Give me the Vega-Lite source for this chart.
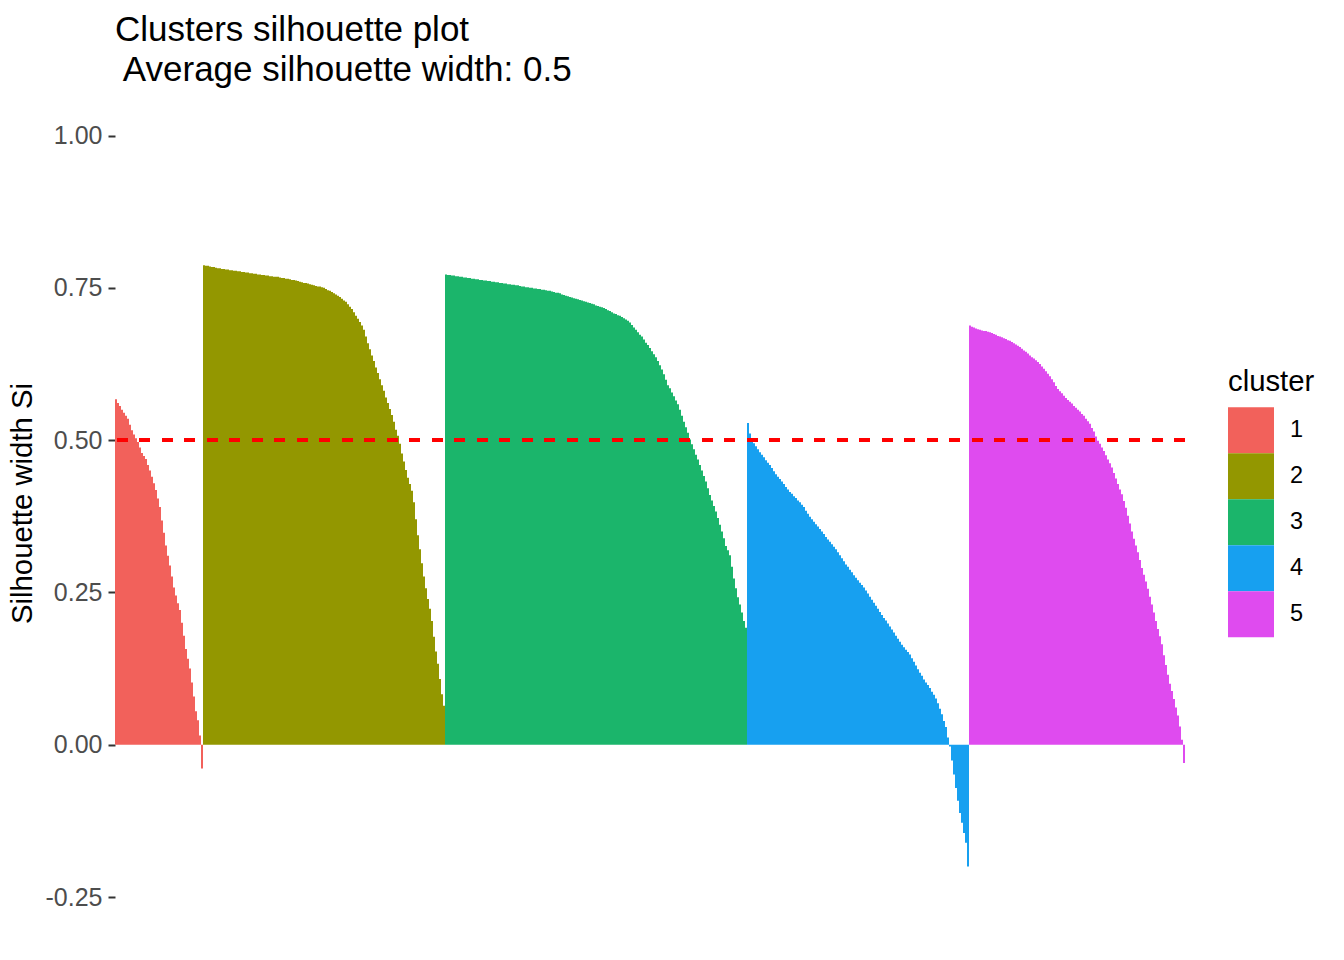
{
"$schema":"https://vega.github.io/schema/vega-lite/v6.json",
"width":1070,"height":788,
"autosize":{"type":"none"},
"padding":{"left":115,"top":109,"right":159,"bottom":63},
"background":"white",
"config":{"view":{"stroke":null},"font":"Liberation Sans"},
"title":{"text":["Clusters silhouette plot","\u200b Average silhouette width: 0.5"],"anchor":"start","frame":"group","fontSize":35,"fontWeight":"normal","lineHeight":40,"color":"black","offset":21,"font":"Liberation Sans"},
"data":{"values":[
{"i":1,"c":"1","s":0.567},{"i":2,"c":"1","s":0.561},{"i":3,"c":"1","s":0.556},{"i":4,"c":"1","s":0.550},{"i":5,"c":"1","s":0.545},{"i":6,"c":"1","s":0.540},{"i":7,"c":"1","s":0.535},{"i":8,"c":"1","s":0.525},{"i":9,"c":"1","s":0.516},{"i":10,"c":"1","s":0.509},
{"i":11,"c":"1","s":0.503},{"i":12,"c":"1","s":0.497},{"i":13,"c":"1","s":0.488},{"i":14,"c":"1","s":0.479},{"i":15,"c":"1","s":0.474},{"i":16,"c":"1","s":0.469},{"i":17,"c":"1","s":0.459},{"i":18,"c":"1","s":0.450},{"i":19,"c":"1","s":0.440},{"i":20,"c":"1","s":0.429},
{"i":21,"c":"1","s":0.418},{"i":22,"c":"1","s":0.404},{"i":23,"c":"1","s":0.390},{"i":24,"c":"1","s":0.368},{"i":25,"c":"1","s":0.348},{"i":26,"c":"1","s":0.327},{"i":27,"c":"1","s":0.310},{"i":28,"c":"1","s":0.294},{"i":29,"c":"1","s":0.276},{"i":30,"c":"1","s":0.258},
{"i":31,"c":"1","s":0.245},{"i":32,"c":"1","s":0.232},{"i":33,"c":"1","s":0.221},{"i":34,"c":"1","s":0.200},{"i":35,"c":"1","s":0.179},{"i":36,"c":"1","s":0.157},{"i":37,"c":"1","s":0.141},{"i":38,"c":"1","s":0.125},{"i":39,"c":"1","s":0.102},{"i":40,"c":"1","s":0.079},
{"i":41,"c":"1","s":0.055},{"i":42,"c":"1","s":0.040},{"i":43,"c":"1","s":0.015},{"i":44,"c":"1","s":-0.039},
{"i":45,"c":"2","s":0.787},{"i":46,"c":"2","s":0.786},{"i":47,"c":"2","s":0.786},{"i":48,"c":"2","s":0.785},{"i":49,"c":"2","s":0.784},{"i":50,"c":"2","s":0.784},{"i":51,"c":"2","s":0.783},{"i":52,"c":"2","s":0.782},{"i":53,"c":"2","s":0.782},{"i":54,"c":"2","s":0.781},
{"i":55,"c":"2","s":0.781},{"i":56,"c":"2","s":0.780},{"i":57,"c":"2","s":0.780},{"i":58,"c":"2","s":0.779},{"i":59,"c":"2","s":0.779},{"i":60,"c":"2","s":0.778},{"i":61,"c":"2","s":0.778},{"i":62,"c":"2","s":0.777},{"i":63,"c":"2","s":0.777},{"i":64,"c":"2","s":0.776},
{"i":65,"c":"2","s":0.776},{"i":66,"c":"2","s":0.775},{"i":67,"c":"2","s":0.775},{"i":68,"c":"2","s":0.774},{"i":69,"c":"2","s":0.774},{"i":70,"c":"2","s":0.773},{"i":71,"c":"2","s":0.773},{"i":72,"c":"2","s":0.772},{"i":73,"c":"2","s":0.772},{"i":74,"c":"2","s":0.771},
{"i":75,"c":"2","s":0.771},{"i":76,"c":"2","s":0.770},{"i":77,"c":"2","s":0.770},{"i":78,"c":"2","s":0.769},{"i":79,"c":"2","s":0.769},{"i":80,"c":"2","s":0.768},{"i":81,"c":"2","s":0.768},{"i":82,"c":"2","s":0.768},{"i":83,"c":"2","s":0.767},{"i":84,"c":"2","s":0.766},
{"i":85,"c":"2","s":0.766},{"i":86,"c":"2","s":0.765},{"i":87,"c":"2","s":0.765},{"i":88,"c":"2","s":0.764},{"i":89,"c":"2","s":0.763},{"i":90,"c":"2","s":0.763},{"i":91,"c":"2","s":0.762},{"i":92,"c":"2","s":0.761},{"i":93,"c":"2","s":0.760},{"i":94,"c":"2","s":0.759},
{"i":95,"c":"2","s":0.758},{"i":96,"c":"2","s":0.758},{"i":97,"c":"2","s":0.757},{"i":98,"c":"2","s":0.756},{"i":99,"c":"2","s":0.755},{"i":100,"c":"2","s":0.754},{"i":101,"c":"2","s":0.753},{"i":102,"c":"2","s":0.752},{"i":103,"c":"2","s":0.752},{"i":104,"c":"2","s":0.751},
{"i":105,"c":"2","s":0.750},{"i":106,"c":"2","s":0.748},{"i":107,"c":"2","s":0.746},{"i":108,"c":"2","s":0.745},{"i":109,"c":"2","s":0.743},{"i":110,"c":"2","s":0.741},{"i":111,"c":"2","s":0.739},{"i":112,"c":"2","s":0.737},{"i":113,"c":"2","s":0.735},{"i":114,"c":"2","s":0.732},
{"i":115,"c":"2","s":0.729},{"i":116,"c":"2","s":0.727},{"i":117,"c":"2","s":0.723},{"i":118,"c":"2","s":0.719},{"i":119,"c":"2","s":0.715},{"i":120,"c":"2","s":0.710},{"i":121,"c":"2","s":0.704},{"i":122,"c":"2","s":0.699},{"i":123,"c":"2","s":0.694},{"i":124,"c":"2","s":0.688},
{"i":125,"c":"2","s":0.681},{"i":126,"c":"2","s":0.670},{"i":127,"c":"2","s":0.659},{"i":128,"c":"2","s":0.649},{"i":129,"c":"2","s":0.639},{"i":130,"c":"2","s":0.630},{"i":131,"c":"2","s":0.619},{"i":132,"c":"2","s":0.610},{"i":133,"c":"2","s":0.600},{"i":134,"c":"2","s":0.590},
{"i":135,"c":"2","s":0.581},{"i":136,"c":"2","s":0.570},{"i":137,"c":"2","s":0.561},{"i":138,"c":"2","s":0.551},{"i":139,"c":"2","s":0.541},{"i":140,"c":"2","s":0.530},{"i":141,"c":"2","s":0.517},{"i":142,"c":"2","s":0.507},{"i":143,"c":"2","s":0.494},{"i":144,"c":"2","s":0.478},
{"i":145,"c":"2","s":0.465},{"i":146,"c":"2","s":0.451},{"i":147,"c":"2","s":0.438},{"i":148,"c":"2","s":0.428},{"i":149,"c":"2","s":0.417},{"i":150,"c":"2","s":0.398},{"i":151,"c":"2","s":0.370},{"i":152,"c":"2","s":0.344},{"i":153,"c":"2","s":0.321},{"i":154,"c":"2","s":0.298},
{"i":155,"c":"2","s":0.276},{"i":156,"c":"2","s":0.257},{"i":157,"c":"2","s":0.239},{"i":158,"c":"2","s":0.223},{"i":159,"c":"2","s":0.203},{"i":160,"c":"2","s":0.177},{"i":161,"c":"2","s":0.153},{"i":162,"c":"2","s":0.133},{"i":163,"c":"2","s":0.108},{"i":164,"c":"2","s":0.083},
{"i":165,"c":"2","s":0.064},
{"i":166,"c":"3","s":0.772},{"i":167,"c":"3","s":0.771},{"i":168,"c":"3","s":0.771},{"i":169,"c":"3","s":0.770},{"i":170,"c":"3","s":0.770},{"i":171,"c":"3","s":0.769},{"i":172,"c":"3","s":0.769},{"i":173,"c":"3","s":0.768},{"i":174,"c":"3","s":0.768},{"i":175,"c":"3","s":0.767},
{"i":176,"c":"3","s":0.767},{"i":177,"c":"3","s":0.766},{"i":178,"c":"3","s":0.766},{"i":179,"c":"3","s":0.765},{"i":180,"c":"3","s":0.765},{"i":181,"c":"3","s":0.764},{"i":182,"c":"3","s":0.764},{"i":183,"c":"3","s":0.763},{"i":184,"c":"3","s":0.763},{"i":185,"c":"3","s":0.762},
{"i":186,"c":"3","s":0.762},{"i":187,"c":"3","s":0.761},{"i":188,"c":"3","s":0.761},{"i":189,"c":"3","s":0.760},{"i":190,"c":"3","s":0.760},{"i":191,"c":"3","s":0.759},{"i":192,"c":"3","s":0.759},{"i":193,"c":"3","s":0.758},{"i":194,"c":"3","s":0.758},{"i":195,"c":"3","s":0.757},
{"i":196,"c":"3","s":0.757},{"i":197,"c":"3","s":0.756},{"i":198,"c":"3","s":0.756},{"i":199,"c":"3","s":0.755},{"i":200,"c":"3","s":0.755},{"i":201,"c":"3","s":0.754},{"i":202,"c":"3","s":0.754},{"i":203,"c":"3","s":0.753},{"i":204,"c":"3","s":0.752},{"i":205,"c":"3","s":0.752},
{"i":206,"c":"3","s":0.751},{"i":207,"c":"3","s":0.751},{"i":208,"c":"3","s":0.750},{"i":209,"c":"3","s":0.750},{"i":210,"c":"3","s":0.749},{"i":211,"c":"3","s":0.749},{"i":212,"c":"3","s":0.748},{"i":213,"c":"3","s":0.748},{"i":214,"c":"3","s":0.747},{"i":215,"c":"3","s":0.747},
{"i":216,"c":"3","s":0.746},{"i":217,"c":"3","s":0.745},{"i":218,"c":"3","s":0.745},{"i":219,"c":"3","s":0.744},{"i":220,"c":"3","s":0.743},{"i":221,"c":"3","s":0.742},{"i":222,"c":"3","s":0.742},{"i":223,"c":"3","s":0.741},{"i":224,"c":"3","s":0.739},{"i":225,"c":"3","s":0.738},
{"i":226,"c":"3","s":0.737},{"i":227,"c":"3","s":0.736},{"i":228,"c":"3","s":0.735},{"i":229,"c":"3","s":0.734},{"i":230,"c":"3","s":0.733},{"i":231,"c":"3","s":0.732},{"i":232,"c":"3","s":0.731},{"i":233,"c":"3","s":0.730},{"i":234,"c":"3","s":0.729},{"i":235,"c":"3","s":0.728},
{"i":236,"c":"3","s":0.727},{"i":237,"c":"3","s":0.726},{"i":238,"c":"3","s":0.725},{"i":239,"c":"3","s":0.724},{"i":240,"c":"3","s":0.723},{"i":241,"c":"3","s":0.721},{"i":242,"c":"3","s":0.720},{"i":243,"c":"3","s":0.719},{"i":244,"c":"3","s":0.718},{"i":245,"c":"3","s":0.717},
{"i":246,"c":"3","s":0.715},{"i":247,"c":"3","s":0.713},{"i":248,"c":"3","s":0.712},{"i":249,"c":"3","s":0.710},{"i":250,"c":"3","s":0.708},{"i":251,"c":"3","s":0.707},{"i":252,"c":"3","s":0.705},{"i":253,"c":"3","s":0.704},{"i":254,"c":"3","s":0.702},{"i":255,"c":"3","s":0.700},
{"i":256,"c":"3","s":0.698},{"i":257,"c":"3","s":0.696},{"i":258,"c":"3","s":0.693},{"i":259,"c":"3","s":0.689},{"i":260,"c":"3","s":0.685},{"i":261,"c":"3","s":0.681},{"i":262,"c":"3","s":0.677},{"i":263,"c":"3","s":0.673},{"i":264,"c":"3","s":0.670},{"i":265,"c":"3","s":0.665},
{"i":266,"c":"3","s":0.660},{"i":267,"c":"3","s":0.656},{"i":268,"c":"3","s":0.651},{"i":269,"c":"3","s":0.646},{"i":270,"c":"3","s":0.641},{"i":271,"c":"3","s":0.636},{"i":272,"c":"3","s":0.630},{"i":273,"c":"3","s":0.623},{"i":274,"c":"3","s":0.616},{"i":275,"c":"3","s":0.608},
{"i":276,"c":"3","s":0.599},{"i":277,"c":"3","s":0.590},{"i":278,"c":"3","s":0.585},{"i":279,"c":"3","s":0.578},{"i":280,"c":"3","s":0.572},{"i":281,"c":"3","s":0.565},{"i":282,"c":"3","s":0.559},{"i":283,"c":"3","s":0.550},{"i":284,"c":"3","s":0.540},{"i":285,"c":"3","s":0.530},
{"i":286,"c":"3","s":0.521},{"i":287,"c":"3","s":0.512},{"i":288,"c":"3","s":0.501},{"i":289,"c":"3","s":0.493},{"i":290,"c":"3","s":0.485},{"i":291,"c":"3","s":0.476},{"i":292,"c":"3","s":0.468},{"i":293,"c":"3","s":0.459},{"i":294,"c":"3","s":0.450},{"i":295,"c":"3","s":0.441},
{"i":296,"c":"3","s":0.432},{"i":297,"c":"3","s":0.421},{"i":298,"c":"3","s":0.410},{"i":299,"c":"3","s":0.401},{"i":300,"c":"3","s":0.392},{"i":301,"c":"3","s":0.383},{"i":302,"c":"3","s":0.372},{"i":303,"c":"3","s":0.361},{"i":304,"c":"3","s":0.350},{"i":305,"c":"3","s":0.339},
{"i":306,"c":"3","s":0.326},{"i":307,"c":"3","s":0.319},{"i":308,"c":"3","s":0.311},{"i":309,"c":"3","s":0.292},{"i":310,"c":"3","s":0.273},{"i":311,"c":"3","s":0.257},{"i":312,"c":"3","s":0.242},{"i":313,"c":"3","s":0.230},{"i":314,"c":"3","s":0.217},{"i":315,"c":"3","s":0.203},
{"i":316,"c":"3","s":0.192},
{"i":317,"c":"4","s":0.528},{"i":318,"c":"4","s":0.511},{"i":319,"c":"4","s":0.503},{"i":320,"c":"4","s":0.495},{"i":321,"c":"4","s":0.490},{"i":322,"c":"4","s":0.485},{"i":323,"c":"4","s":0.480},{"i":324,"c":"4","s":0.476},{"i":325,"c":"4","s":0.472},{"i":326,"c":"4","s":0.467},
{"i":327,"c":"4","s":0.463},{"i":328,"c":"4","s":0.459},{"i":329,"c":"4","s":0.454},{"i":330,"c":"4","s":0.449},{"i":331,"c":"4","s":0.444},{"i":332,"c":"4","s":0.440},{"i":333,"c":"4","s":0.436},{"i":334,"c":"4","s":0.432},{"i":335,"c":"4","s":0.428},{"i":336,"c":"4","s":0.423},
{"i":337,"c":"4","s":0.419},{"i":338,"c":"4","s":0.415},{"i":339,"c":"4","s":0.412},{"i":340,"c":"4","s":0.408},{"i":341,"c":"4","s":0.405},{"i":342,"c":"4","s":0.401},{"i":343,"c":"4","s":0.398},{"i":344,"c":"4","s":0.394},{"i":345,"c":"4","s":0.390},{"i":346,"c":"4","s":0.384},
{"i":347,"c":"4","s":0.379},{"i":348,"c":"4","s":0.374},{"i":349,"c":"4","s":0.370},{"i":350,"c":"4","s":0.366},{"i":351,"c":"4","s":0.362},{"i":352,"c":"4","s":0.358},{"i":353,"c":"4","s":0.354},{"i":354,"c":"4","s":0.350},{"i":355,"c":"4","s":0.346},{"i":356,"c":"4","s":0.341},
{"i":357,"c":"4","s":0.337},{"i":358,"c":"4","s":0.333},{"i":359,"c":"4","s":0.329},{"i":360,"c":"4","s":0.325},{"i":361,"c":"4","s":0.321},{"i":362,"c":"4","s":0.316},{"i":363,"c":"4","s":0.311},{"i":364,"c":"4","s":0.306},{"i":365,"c":"4","s":0.301},{"i":366,"c":"4","s":0.296},
{"i":367,"c":"4","s":0.292},{"i":368,"c":"4","s":0.287},{"i":369,"c":"4","s":0.283},{"i":370,"c":"4","s":0.278},{"i":371,"c":"4","s":0.274},{"i":372,"c":"4","s":0.270},{"i":373,"c":"4","s":0.266},{"i":374,"c":"4","s":0.262},{"i":375,"c":"4","s":0.258},{"i":376,"c":"4","s":0.253},
{"i":377,"c":"4","s":0.248},{"i":378,"c":"4","s":0.243},{"i":379,"c":"4","s":0.238},{"i":380,"c":"4","s":0.233},{"i":381,"c":"4","s":0.228},{"i":382,"c":"4","s":0.223},{"i":383,"c":"4","s":0.218},{"i":384,"c":"4","s":0.213},{"i":385,"c":"4","s":0.208},{"i":386,"c":"4","s":0.204},
{"i":387,"c":"4","s":0.199},{"i":388,"c":"4","s":0.194},{"i":389,"c":"4","s":0.189},{"i":390,"c":"4","s":0.184},{"i":391,"c":"4","s":0.179},{"i":392,"c":"4","s":0.174},{"i":393,"c":"4","s":0.169},{"i":394,"c":"4","s":0.164},{"i":395,"c":"4","s":0.160},{"i":396,"c":"4","s":0.156},
{"i":397,"c":"4","s":0.152},{"i":398,"c":"4","s":0.148},{"i":399,"c":"4","s":0.142},{"i":400,"c":"4","s":0.136},{"i":401,"c":"4","s":0.130},{"i":402,"c":"4","s":0.124},{"i":403,"c":"4","s":0.118},{"i":404,"c":"4","s":0.113},{"i":405,"c":"4","s":0.107},{"i":406,"c":"4","s":0.102},
{"i":407,"c":"4","s":0.098},{"i":408,"c":"4","s":0.093},{"i":409,"c":"4","s":0.087},{"i":410,"c":"4","s":0.082},{"i":411,"c":"4","s":0.076},{"i":412,"c":"4","s":0.068},{"i":413,"c":"4","s":0.059},{"i":414,"c":"4","s":0.050},{"i":415,"c":"4","s":0.039},{"i":416,"c":"4","s":0.029},
{"i":417,"c":"4","s":0.012},{"i":418,"c":"4","s":-0.003},{"i":419,"c":"4","s":-0.026},{"i":420,"c":"4","s":-0.049},{"i":421,"c":"4","s":-0.071},{"i":422,"c":"4","s":-0.092},{"i":423,"c":"4","s":-0.112},{"i":424,"c":"4","s":-0.128},{"i":425,"c":"4","s":-0.145},{"i":426,"c":"4","s":-0.161},
{"i":427,"c":"4","s":-0.200},
{"i":428,"c":"5","s":0.688},{"i":429,"c":"5","s":0.686},{"i":430,"c":"5","s":0.685},{"i":431,"c":"5","s":0.683},{"i":432,"c":"5","s":0.682},{"i":433,"c":"5","s":0.681},{"i":434,"c":"5","s":0.680},{"i":435,"c":"5","s":0.679},{"i":436,"c":"5","s":0.679},{"i":437,"c":"5","s":0.678},
{"i":438,"c":"5","s":0.677},{"i":439,"c":"5","s":0.676},{"i":440,"c":"5","s":0.674},{"i":441,"c":"5","s":0.673},{"i":442,"c":"5","s":0.671},{"i":443,"c":"5","s":0.670},{"i":444,"c":"5","s":0.669},{"i":445,"c":"5","s":0.667},{"i":446,"c":"5","s":0.666},{"i":447,"c":"5","s":0.664},
{"i":448,"c":"5","s":0.663},{"i":449,"c":"5","s":0.661},{"i":450,"c":"5","s":0.659},{"i":451,"c":"5","s":0.657},{"i":452,"c":"5","s":0.655},{"i":453,"c":"5","s":0.653},{"i":454,"c":"5","s":0.650},{"i":455,"c":"5","s":0.647},{"i":456,"c":"5","s":0.645},{"i":457,"c":"5","s":0.642},
{"i":458,"c":"5","s":0.639},{"i":459,"c":"5","s":0.636},{"i":460,"c":"5","s":0.634},{"i":461,"c":"5","s":0.631},{"i":462,"c":"5","s":0.628},{"i":463,"c":"5","s":0.625},{"i":464,"c":"5","s":0.621},{"i":465,"c":"5","s":0.617},{"i":466,"c":"5","s":0.613},{"i":467,"c":"5","s":0.609},
{"i":468,"c":"5","s":0.605},{"i":469,"c":"5","s":0.600},{"i":470,"c":"5","s":0.595},{"i":471,"c":"5","s":0.589},{"i":472,"c":"5","s":0.584},{"i":473,"c":"5","s":0.580},{"i":474,"c":"5","s":0.577},{"i":475,"c":"5","s":0.573},{"i":476,"c":"5","s":0.569},{"i":477,"c":"5","s":0.566},
{"i":478,"c":"5","s":0.563},{"i":479,"c":"5","s":0.560},{"i":480,"c":"5","s":0.556},{"i":481,"c":"5","s":0.553},{"i":482,"c":"5","s":0.550},{"i":483,"c":"5","s":0.547},{"i":484,"c":"5","s":0.543},{"i":485,"c":"5","s":0.540},{"i":486,"c":"5","s":0.535},{"i":487,"c":"5","s":0.531},
{"i":488,"c":"5","s":0.527},{"i":489,"c":"5","s":0.520},{"i":490,"c":"5","s":0.514},{"i":491,"c":"5","s":0.506},{"i":492,"c":"5","s":0.499},{"i":493,"c":"5","s":0.494},{"i":494,"c":"5","s":0.488},{"i":495,"c":"5","s":0.482},{"i":496,"c":"5","s":0.475},{"i":497,"c":"5","s":0.468},
{"i":498,"c":"5","s":0.462},{"i":499,"c":"5","s":0.455},{"i":500,"c":"5","s":0.446},{"i":501,"c":"5","s":0.437},{"i":502,"c":"5","s":0.428},{"i":503,"c":"5","s":0.419},{"i":504,"c":"5","s":0.411},{"i":505,"c":"5","s":0.400},{"i":506,"c":"5","s":0.389},{"i":507,"c":"5","s":0.376},
{"i":508,"c":"5","s":0.363},{"i":509,"c":"5","s":0.350},{"i":510,"c":"5","s":0.338},{"i":511,"c":"5","s":0.327},{"i":512,"c":"5","s":0.316},{"i":513,"c":"5","s":0.303},{"i":514,"c":"5","s":0.290},{"i":515,"c":"5","s":0.279},{"i":516,"c":"5","s":0.268},{"i":517,"c":"5","s":0.256},
{"i":518,"c":"5","s":0.243},{"i":519,"c":"5","s":0.230},{"i":520,"c":"5","s":0.217},{"i":521,"c":"5","s":0.203},{"i":522,"c":"5","s":0.190},{"i":523,"c":"5","s":0.178},{"i":524,"c":"5","s":0.165},{"i":525,"c":"5","s":0.147},{"i":526,"c":"5","s":0.131},{"i":527,"c":"5","s":0.115},
{"i":528,"c":"5","s":0.100},{"i":529,"c":"5","s":0.088},{"i":530,"c":"5","s":0.075},{"i":531,"c":"5","s":0.061},{"i":532,"c":"5","s":0.048},{"i":533,"c":"5","s":0.030},{"i":534,"c":"5","s":0.008},{"i":535,"c":"5","s":-0.030}
]},
"layer":[
{"mark":{"type":"bar"},
 "encoding":{
  "x":{"field":"i","type":"ordinal","axis":null,"scale":{"paddingInner":0,"paddingOuter":0,"round":true}},
  "y":{"field":"s","type":"quantitative","stack":null,"scale":{"domain":[-0.25,1.0435],"nice":false,"zero":false},
       "axis":{"title":"Silhouette width Si","values":[-0.25,0,0.25,0.5,0.75,1],"labelExpr":"replace(format(datum.value,'.2f'),'\u2212','-')","domain":false,"grid":false,"ticks":true,"tickSize":7,"tickWidth":2,"tickColor":"#333333","labelFontSize":25,"labelColor":"#4D4D4D","labelPadding":6,"labelFont":"Liberation Sans","titleFont":"Liberation Sans","titleFontSize":29.3,"titleFontWeight":"normal","titleColor":"black","titlePadding":8}},
  "color":{"field":"c","type":"nominal","scale":{"domain":["1","2","3","4","5"],"range":["#F2615B","#939700","#1BB56B","#17A0F0","#DF4BEF"]},
       "legend":{"title":"cluster","orient":"none","legendX":1113,"legendY":259,"titleFont":"Liberation Sans","titleFontSize":29.3,"titleFontWeight":"normal","titleColor":"black","titlePadding":10,"labelFont":"Liberation Sans","labelFontSize":23.5,"labelColor":"black","labelOffset":16,"symbolType":"square","symbolSize":2116,"symbolStrokeColor":"white","symbolStrokeWidth":0,"symbolOpacity":1,"rowPadding":-8}}
 }},
{"mark":{"type":"rule","color":"#FF0000","strokeDash":[10.5,12],"strokeWidth":2.5},
 "encoding":{"y":{"datum":0.5}}}
]
}
